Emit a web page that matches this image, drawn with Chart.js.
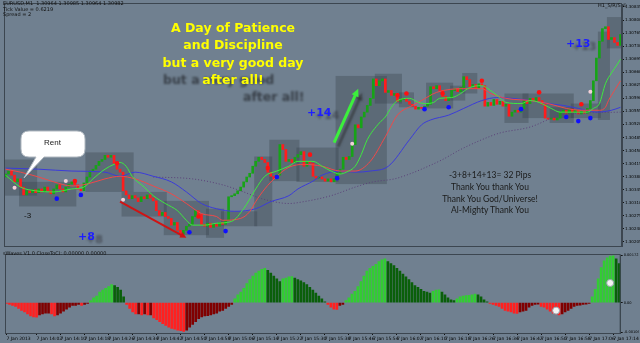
<!DOCTYPE html>
<html lang="en">
<head>
<meta charset="UTF-8">
<title>EURUSD,M1</title>
<script src="https://cdn.jsdelivr.net/npm/chart.js"></script>
<style>
  body { margin: 0; width: 640px; height: 343px; overflow: hidden; position: relative; background: #708090; font-family: 'DejaVu Sans', sans-serif; }
  canvas { position: absolute; left: 0; }
  #main { top: 0; }
  #waves { top: 250px; }
  .note { position: absolute; white-space: nowrap; }
  .tiny { font-size: 5px; color: #111; line-height: 5.5px; }
  .big { left: 0; width: 466px; top: 19px; text-align: center; font: bold 12.5px 'DejaVu Sans', sans-serif; line-height: 17.3px; color: #ffff00; }
  .shade { font: bold 12.5px 'DejaVu Sans', sans-serif; color: rgba(38,42,48,0.75); filter: blur(1.2px); }
  .pips { font: bold 11px 'DejaVu Sans', sans-serif; color: #1e1eff; }
  .pipshade { font: bold 11px 'DejaVu Sans', sans-serif; color: rgba(50,52,60,0.6); filter: blur(1px); }
  .thanks { left: 390px; width: 200px; top: 170px; text-align: center; font-family: Lato, sans-serif; font-size: 8.5px; line-height: 11.8px; color: #1a1a1a; }
</style>
</head>
<body>
<canvas id="main" width="640" height="250"></canvas>
<canvas id="waves" width="640" height="93"></canvas>

<div class="note tiny" style="left:3px;top:1px">EURUSD,M1&nbsp; 1.30964 1.30985 1.30964 1.30982<br>Tick Value = 0.6219<br>Spread = 2</div>
<div class="note tiny" style="left:598px;top:3px">H1_S/R/S ©</div>
<div class="note tiny" style="left:3px;top:251px">sWaves V1.0 CloseToCl: 0.00000 0.00000</div>

<div class="note shade" style="left:163px;top:72px">but a very good</div>
<div class="note shade" style="left:243px;top:89px">after all!</div>
<div class="note big">A Day of Patience<br>and Discipline<br>but a very good day<br>after all!</div>

<svg class="note" width="90" height="60" style="left:15px;top:128px">
  <path d="M14,3 H62 Q70,3 70,11 V21 Q70,29 62,29 H29 L9,50 L21,29 H14 Q6,29 6,21 V11 Q6,3 14,3 Z" fill="#ffffff" stroke="#b0b8c0" stroke-width="1"/>
</svg>
<div class="note" style="left:44px;top:138px;font:8px 'Liberation Sans',sans-serif;color:#222">Rent</div>

<div class="note" style="left:24px;top:211px;font:8px 'Liberation Sans',sans-serif;color:#111">-3</div>
<div class="note pipshade" style="left:86px;top:233px">+8</div>
<div class="note pips" style="left:78px;top:230px">+8</div>
<div class="note pipshade" style="left:315px;top:109px">+14</div>
<div class="note pips" style="left:307px;top:106px">+14</div>
<div class="note pipshade" style="left:572px;top:40px">+13</div>
<div class="note pips" style="left:566px;top:37px">+13</div>

<div class="note thanks">-3+8+14+13= 32 Pips<br>Thank You thank You<br>Thank You God/Universe!<br>Al-Mighty Thank You</div>

<script>
// EURUSD M1, one bar per minute from 13:52
const firstOpen = 1.30379;
const closes = [
  1.30387, 1.30395, 1.30384, 1.30366, 1.30374, 1.30352, 1.30331, 1.30342, 1.30337, 1.30345,
  1.30337, 1.30347, 1.30339, 1.30352, 1.30342, 1.30334, 1.30347, 1.30358, 1.30347, 1.30339,
  1.30352, 1.30360, 1.30366, 1.30358, 1.30347, 1.30342, 1.30363, 1.30379, 1.30395, 1.30400,
  1.30410, 1.30421, 1.30426, 1.30437, 1.30432, 1.30437, 1.30416, 1.30400, 1.30392, 1.30342,
  1.30331, 1.30321, 1.30329, 1.30323, 1.30313, 1.30326, 1.30321, 1.30331, 1.30323, 1.30315,
  1.30289, 1.30276, 1.30284, 1.30273, 1.30268, 1.30250, 1.30257, 1.30236, 1.30226, 1.30236,
  1.30247, 1.30252, 1.30273, 1.30289, 1.30279, 1.30252, 1.30247, 1.30255, 1.30244, 1.30252,
  1.30247, 1.30257, 1.30252, 1.30263, 1.30326, 1.30329, 1.30334, 1.30342, 1.30352, 1.30366,
  1.30379, 1.30389, 1.30408, 1.30421, 1.30432, 1.30426, 1.30418, 1.30392, 1.30381, 1.30374,
  1.30384, 1.30466, 1.30453, 1.30421, 1.30426, 1.30418, 1.30432, 1.30439, 1.30447, 1.30408,
  1.30421, 1.30416, 1.30381, 1.30376, 1.30379, 1.30374, 1.30368, 1.30374, 1.30366, 1.30374,
  1.30389, 1.30400, 1.30432, 1.30426, 1.30434, 1.30466, 1.30519, 1.30511, 1.30540, 1.30553,
  1.30571, 1.30590, 1.30642, 1.30624, 1.30637, 1.30642, 1.30606, 1.30611, 1.30598, 1.30603,
  1.30582, 1.30587, 1.30590, 1.30582, 1.30574, 1.30569, 1.30561, 1.30566, 1.30563, 1.30569,
  1.30574, 1.30621, 1.30616, 1.30624, 1.30611, 1.30595, 1.30584, 1.30592, 1.30611, 1.30616,
  1.30608, 1.30619, 1.30648, 1.30640, 1.30621, 1.30627, 1.30616, 1.30629, 1.30624, 1.30569,
  1.30579, 1.30571, 1.30587, 1.30574, 1.30582, 1.30569, 1.30574, 1.30542, 1.30553, 1.30558,
  1.30553, 1.30563, 1.30584, 1.30576, 1.30590, 1.30582, 1.30592, 1.30584, 1.30574, 1.30537,
  1.30534, 1.30537, 1.30532, 1.30537, 1.30553, 1.30558, 1.30550, 1.30561, 1.30553, 1.30558,
  1.30548, 1.30555, 1.30550, 1.30563, 1.30584, 1.30637, 1.30698, 1.30743, 1.30777, 1.30782,
  1.30748, 1.30753, 1.30740, 1.30732, 1.30761
];

// moving averages (bar index, price)
const fastBars = [0, 5, 10, 16, 22, 26, 29, 33, 36, 38, 40, 42, 46, 49, 53, 57, 60, 62, 66, 70, 75, 79, 83, 86, 90, 94, 97, 102, 105, 108, 111, 113, 116, 118, 120, 124, 126, 128, 130, 134, 137, 139, 142, 144, 148, 151, 154, 158, 160, 163, 166, 171, 174, 177, 181, 184, 188, 193, 195, 197, 199, 201, 203, 204];
const fastVals = [1.30384, 1.30352, 1.30342, 1.30339, 1.30347, 1.30352, 1.30374, 1.30400, 1.30413, 1.30418, 1.30408, 1.30381, 1.30352, 1.30329, 1.30308, 1.30289, 1.30263, 1.30250, 1.30250, 1.30255, 1.30260, 1.30294, 1.30347, 1.30381, 1.30395, 1.30408, 1.30421, 1.30421, 1.30408, 1.30395, 1.30387, 1.30392, 1.30408, 1.30439, 1.30479, 1.30524, 1.30540, 1.30566, 1.30584, 1.30590, 1.30579, 1.30576, 1.30579, 1.30590, 1.30592, 1.30603, 1.30619, 1.30624, 1.30616, 1.30598, 1.30579, 1.30576, 1.30584, 1.30579, 1.30563, 1.30553, 1.30553, 1.30553, 1.30563, 1.30576, 1.30629, 1.30658, 1.30682, 1.30695];

const midBars = [0, 5, 11, 16, 22, 27, 33, 38, 43, 49, 55, 60, 65, 70, 72, 78, 81, 83, 86, 90, 94, 99, 105, 111, 116, 121, 126, 130, 135, 138, 143, 152, 158, 161, 166, 174, 180, 186, 191, 197, 199, 200, 202, 204];
const midVals = [1.30400, 1.30392, 1.30379, 1.30366, 1.30355, 1.30360, 1.30374, 1.30381, 1.30374, 1.30355, 1.30334, 1.30308, 1.30281, 1.30273, 1.30263, 1.30268, 1.30286, 1.30313, 1.30347, 1.30381, 1.30405, 1.30413, 1.30408, 1.30395, 1.30395, 1.30421, 1.30487, 1.30545, 1.30571, 1.30584, 1.30606, 1.30616, 1.30616, 1.30603, 1.30590, 1.30584, 1.30576, 1.30563, 1.30558, 1.30558, 1.30566, 1.30584, 1.30611, 1.30637];

const slowBars = [0, 11, 22, 33, 38, 43, 49, 55, 60, 65, 70, 76, 83, 88, 94, 97, 102, 105, 111, 116, 121, 127, 134, 138, 141, 147, 152, 158, 163, 168, 174, 180, 185, 190, 196, 201, 204];
const slowVals = [1.30403, 1.30400, 1.30395, 1.30392, 1.30381, 1.30392, 1.30381, 1.30366, 1.30339, 1.30308, 1.30294, 1.30287, 1.30294, 1.30313, 1.30329, 1.30347, 1.30368, 1.30384, 1.30395, 1.30392, 1.30395, 1.30408, 1.30479, 1.30519, 1.30532, 1.30545, 1.30563, 1.30584, 1.30592, 1.30590, 1.30584, 1.30576, 1.30571, 1.30563, 1.30553, 1.30558, 1.30566];

const longBars = [49, 62, 72, 78, 85, 94, 99, 108, 116, 122, 129, 134, 138, 145, 151, 158, 164, 174, 184, 190, 204];
const longVals = [1.30379, 1.30374, 1.30358, 1.30342, 1.30321, 1.30308, 1.30313, 1.30329, 1.30352, 1.30366, 1.30374, 1.30387, 1.30400, 1.30426, 1.30453, 1.30479, 1.30497, 1.30513, 1.30545, 1.30550, 1.30553];

// fractal dots
const upBars = [23, 37, 64, 87, 101, 130, 133, 145, 158, 177, 191];
const upVals = [1.30368, 1.30416, 1.30273, 1.30403, 1.30439, 1.30598, 1.30603, 1.30603, 1.30637, 1.30606, 1.30574];
const downBars = [17, 25, 61, 73, 90, 110, 139, 147, 171, 186, 190, 194];
const downVals = [1.30321, 1.30331, 1.30231, 1.30234, 1.30379, 1.30376, 1.30561, 1.30566, 1.30561, 1.30540, 1.30529, 1.30537];
const pinkBars = [3, 20, 39, 115, 194];
const pinkVals = [1.30350, 1.30368, 1.30318, 1.30468, 1.30608];

// shaded ranges
const boxStart = [0, 5, 27, 39, 53, 67, 72, 83, 88, 97, 110, 123, 131, 140, 148, 152, 166, 172, 181, 188, 197, 200];
const boxEnd = [10, 23, 42, 53, 67, 72, 83, 88, 97, 110, 126, 131, 135, 148, 152, 156, 173, 188, 188, 197, 200, 204];
const boxHigh = [1.30426, 1.30366, 1.30445, 1.30339, 1.30315, 1.30294, 1.30287, 1.30434, 1.30479, 1.30458, 1.30650, 1.30656, 1.30606, 1.30632, 1.30624, 1.30658, 1.30603, 1.30603, 1.30566, 1.30576, 1.30769, 1.30808];
const boxLow = [1.30329, 1.30300, 1.30339, 1.30273, 1.30223, 1.30216, 1.30247, 1.30247, 1.30368, 1.30366, 1.30360, 1.30576, 1.30566, 1.30563, 1.30584, 1.30603, 1.30524, 1.30537, 1.30524, 1.30537, 1.30532, 1.30724];

const priceTicks = [1.30835, 1.30800, 1.30765, 1.30730, 1.30695, 1.30660, 1.30625, 1.30590, 1.30555, 1.30520, 1.30485, 1.30450, 1.30415, 1.30380, 1.30345, 1.30310, 1.30275, 1.30240, 1.30205];

// oscillator window
const waves = [
  -0.00003, -0.00007, -0.00010, -0.00014, -0.00021, -0.00028, -0.00034, -0.00041, -0.00048, -0.00052,
  -0.00053, -0.00045, -0.00041, -0.00038, -0.00038, -0.00041, -0.00048, -0.00045, -0.00038, -0.00031,
  -0.00024, -0.00017, -0.00010, -0.00010, -0.00007, -0.00010, -0.00007, -0.00003, 0.00007, 0.00017,
  0.00024, 0.00038, 0.00045, 0.00052, 0.00058, 0.00065, 0.00062, 0.00055, 0.00045, 0.00021,
  -0.00007, -0.00021, -0.00034, -0.00041, -0.00041, -0.00045, -0.00041, -0.00045, -0.00045, -0.00055,
  -0.00062, -0.00069, -0.00076, -0.00083, -0.00089, -0.00093, -0.00096, -0.00100, -0.00102, -0.00104,
  -0.00100, -0.00089, -0.00079, -0.00069, -0.00058, -0.00052, -0.00048, -0.00047, -0.00045, -0.00041,
  -0.00038, -0.00031, -0.00028, -0.00021, -0.00014, -0.00007, 0.00014, 0.00028, 0.00038, 0.00052,
  0.00069, 0.00083, 0.00096, 0.00107, 0.00114, 0.00120, 0.00124, 0.00117, 0.00107, 0.00096,
  0.00086, 0.00076, 0.00086, 0.00089, 0.00093, 0.00094, 0.00089, 0.00083, 0.00079, 0.00072,
  0.00065, 0.00055, 0.00045, 0.00034, 0.00024, 0.00014, 0.00003, -0.00007, -0.00017, -0.00024,
  -0.00025, -0.00010, -0.00007, 0.00007, 0.00017, 0.00031, 0.00041, 0.00058, 0.00076, 0.00096,
  0.00114, 0.00124, 0.00131, 0.00138, 0.00148, 0.00155, 0.00158, 0.00148, 0.00141, 0.00134,
  0.00124, 0.00114, 0.00103, 0.00093, 0.00083, 0.00072, 0.00062, 0.00055, 0.00048, 0.00041,
  0.00038, 0.00034, 0.00041, 0.00045, 0.00046, 0.00038, 0.00028, 0.00017, 0.00010, 0.00007,
  0.00014, 0.00021, 0.00024, 0.00025, 0.00026, 0.00028, 0.00031, 0.00028, 0.00021, 0.00010,
  0.00003, -0.00003, -0.00007, -0.00010, -0.00014, -0.00021, -0.00028, -0.00031, -0.00034, -0.00038,
  -0.00039, -0.00034, -0.00031, -0.00028, -0.00017, -0.00010, -0.00007, -0.00006, -0.00014, -0.00017,
  -0.00024, -0.00031, -0.00038, -0.00041, -0.00045, -0.00041, -0.00034, -0.00028, -0.00021, -0.00014,
  -0.00010, -0.00009, -0.00007, -0.00006, -0.00003, 0.00021, 0.00048, 0.00086, 0.00127, 0.00151,
  0.00162, 0.00168, 0.00169, 0.00158, 0.00141
];
const waveTicks = [0.001722, 0, -0.001067];
const waveMarkBars = [183, 201];
const waveMarkVals = [-0.00029, 0.00071];

const timeLabels = ['7 Jan 2013', '7 Jan 14:02', '7 Jan 14:10', '7 Jan 14:18', '7 Jan 14:26', '7 Jan 14:34', '7 Jan 14:42', '7 Jan 14:50', '7 Jan 14:58', '7 Jan 15:06', '7 Jan 15:14', '7 Jan 15:22', '7 Jan 15:30', '7 Jan 15:38', '7 Jan 15:46', '7 Jan 15:54', '7 Jan 16:02', '7 Jan 16:10', '7 Jan 16:18', '7 Jan 16:26', '7 Jan 16:34', '7 Jan 16:42', '7 Jan 16:50', '7 Jan 16:58', '7 Jan 17:06', '7 Jan 17:14'];
const firstBarTime = '13:52';

Chart.defaults.font.family = "'DejaVu Sans', sans-serif";
Chart.defaults.animation = false;

function minutes(t) {
    const m = t.match(/(\d+):(\d+)$/);
    return m ? (+m[1]) * 60 + (+m[2]) : null;
}
function barOfLabel(label) {
    const m = minutes(label);
    return m === null ? 0 : m - minutes(firstBarTime);
}
const pts = (bars, vals) => bars.map((b, i) => ({ x: b, y: vals[i] }));

const candleData = closes.map((c, i) => ({ x: i, y: [i === 0 ? firstOpen : closes[i - 1], c] }));
const candleColors = candleData.map(d => d.y[1] >= d.y[0] ? '#17a317' : '#ff1c1c');

function maLine(bars, vals, color, dash) {
    return {
        type: 'line', data: pts(bars, vals), borderColor: color, borderWidth: 1,
        borderDash: dash || [], pointRadius: 0, cubicInterpolationMode: 'monotone'
    };
}
function dots(bars, vals, color, r) {
    return { type: 'scatter', data: pts(bars, vals), backgroundColor: color, borderWidth: 0, pointRadius: r };
}

const xRange = { type: 'linear', min: -0.5, max: 204.5, offset: false };

// boxes, arrows and frame drawn through the scales
const decorPlugin = {
    id: 'decor',
    beforeDatasetsDraw(chart) {
        const { ctx, scales: { x, y } } = chart;
        ctx.save();
        ctx.fillStyle = 'rgba(52,60,70,0.33)';
        boxStart.forEach((b, k) => {
            const x1 = x.getPixelForValue(b - 0.5), x2 = x.getPixelForValue(boxEnd[k] + 0.5);
            const y1 = y.getPixelForValue(boxHigh[k]), y2 = y.getPixelForValue(boxLow[k]);
            ctx.fillRect(x1, y1, x2 - x1, y2 - y1);
        });
        ctx.restore();
    },
    afterDatasetsDraw(chart) {
        const { ctx, scales: { x, y } } = chart;
        const arrow = (b1, p1, b2, p2, color, w, shadow) => {
            const x1 = x.getPixelForValue(b1), y1 = y.getPixelForValue(p1);
            const x2 = x.getPixelForValue(b2), y2 = y.getPixelForValue(p2);
            const a = Math.atan2(y2 - y1, x2 - x1), h = 4 + w * 1.5;
            ctx.save();
            if (shadow) {
                ctx.shadowColor = 'rgba(40,40,40,0.5)';
                ctx.shadowOffsetX = 4; ctx.shadowOffsetY = 4; ctx.shadowBlur = 2;
            }
            ctx.strokeStyle = color; ctx.fillStyle = color; ctx.lineWidth = w;
            ctx.beginPath(); ctx.moveTo(x1, y1); ctx.lineTo(x2 - Math.cos(a) * h * 0.6, y2 - Math.sin(a) * h * 0.6); ctx.stroke();
            ctx.beginPath();
            ctx.moveTo(x2, y2);
            ctx.lineTo(x2 - h * Math.cos(a - 0.45), y2 - h * Math.sin(a - 0.45));
            ctx.lineTo(x2 - h * Math.cos(a + 0.45), y2 - h * Math.sin(a + 0.45));
            ctx.closePath(); ctx.fill();
            ctx.restore();
        };
        arrow(38, 1.30313, 60, 1.30216, '#d01414', 2, false);
        arrow(109, 1.30471, 117, 1.30616, '#3cf03c', 3, true);
    },
    afterDraw(chart) {
        const { ctx, chartArea: a } = chart;
        ctx.save();
        ctx.strokeStyle = '#3c4650';
        ctx.lineWidth = 1;
        ctx.strokeRect(a.left + 0.5, a.top - 0.5, a.right - a.left - 1, a.bottom - a.top + 1);
        ctx.restore();
    }
};

new Chart(document.getElementById('main'), {
    type: 'bar',
    data: {
        datasets: [
            dots(upBars, upVals, '#ff1010', 2.3),
            dots(downBars, downVals, '#1010ff', 2.3),
            dots(pinkBars, pinkVals, '#f2d0d8', 2),
            maLine(fastBars, fastVals, '#3ee83e'),
            maLine(midBars, midVals, '#f04848'),
            maLine(slowBars, slowVals, '#3b3bd8'),
            maLine(longBars, longVals, '#5a3f78', [1, 2]),
            {
                type: 'bar', data: candleData, backgroundColor: candleColors,
                barThickness: 2, minBarLength: 1, borderWidth: 0, grouped: false
            }
        ]
    },
    options: {
        responsive: false,
        events: [],
        layout: { padding: { top: 2, bottom: 2, left: 0, right: 0 } },
        plugins: { legend: { display: false }, tooltip: { enabled: false } },
        scales: {
            x: { ...xRange, display: false },
            y: {
                position: 'right', min: 1.30194, max: 1.30843,
                afterFit: s => { s.width = 18; },
                afterBuildTicks: s => { s.ticks = priceTicks.map(v => ({ value: v })); },
                ticks: { callback: v => v.toFixed(5), font: { size: 4 }, color: '#000', padding: 1 },
                grid: { drawOnChartArea: false, tickLength: 2, color: '#111' },
                border: { color: '#3c4650' }
            }
        }
    },
    plugins: [decorPlugin]
});

const waveColors = waves.map((v, i) => {
    const prev = i === 0 ? 0 : waves[i - 1];
    if (v >= 0) return v > prev ? '#33cc33' : '#0a5f0a';
    return v < prev ? '#ff2020' : '#800000';
});

new Chart(document.getElementById('waves'), {
    type: 'bar',
    data: {
        datasets: [
            {
                type: 'scatter', data: pts(waveMarkBars, waveMarkVals), backgroundColor: '#f4f4f4',
                borderColor: '#9aa4ae', borderWidth: 1, pointRadius: 3.5
            },
            {
                type: 'bar', data: waves.map((v, i) => ({ x: i, y: v })), backgroundColor: waveColors,
                barThickness: 2, borderWidth: 0, grouped: false
            }
        ]
    },
    options: {
        responsive: false,
        events: [],
        layout: { padding: { top: 1, bottom: 0, left: 0, right: 0 } },
        plugins: { legend: { display: false }, tooltip: { enabled: false } },
        scales: {
            x: {
                ...xRange,
                afterFit: s => { s.height = 10; },
                afterBuildTicks: s => { s.ticks = timeLabels.map(l => ({ value: barOfLabel(l) })); },
                ticks: {
                    callback: (v, i) => timeLabels[i], align: 'start', autoSkip: false,
                    maxRotation: 0, minRotation: 0, font: { size: 4.5 }, color: '#000', padding: 1
                },
                grid: { drawOnChartArea: false, tickLength: 2, color: '#111', offset: false },
                border: { color: '#3c4650' }
            },
            y: {
                position: 'right', min: -0.0011, max: 0.001722,
                afterFit: s => { s.width = 18; },
                afterBuildTicks: s => { s.ticks = waveTicks.map(v => ({ value: v })); },
                ticks: { callback: v => v === 0 ? '0.00' : v.toFixed(6), font: { size: 3.6 }, color: '#000', padding: 1 },
                grid: { drawOnChartArea: false, tickLength: 2, color: '#111' },
                border: { color: '#3c4650' }
            }
        }
    },
    plugins: [{
        id: 'frame',
        afterDraw(chart) {
            const { ctx, chartArea: a } = chart;
            ctx.save();
            ctx.strokeStyle = '#3c4650';
            ctx.strokeRect(a.left + 0.5, a.top - 0.5, a.right - a.left - 1, a.bottom - a.top + 1);
            ctx.restore();
        }
    }]
});
</script>
</body>
</html>
